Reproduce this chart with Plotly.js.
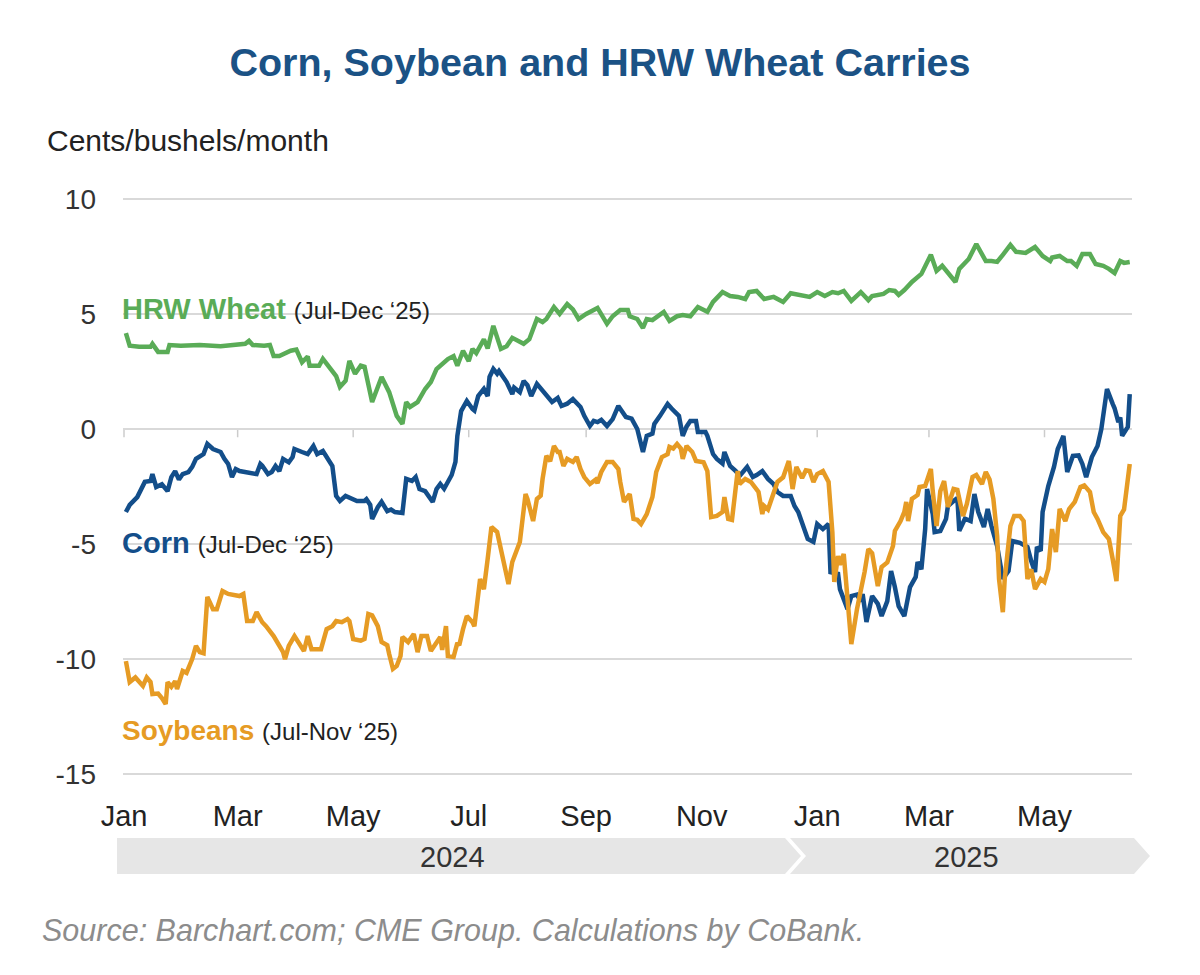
<!DOCTYPE html>
<html>
<head>
<meta charset="utf-8">
<script src="https://cdn.plot.ly/plotly-3.0.1.min.js"></script>
<style>
  html, body { margin: 0; padding: 0; background: #ffffff; }
  #chart { width: 1200px; height: 975px; }
</style>
</head>
<body>
<div id="chart"></div>
<script>
// Calendar spread carries, cents/bushel/month, by trading day.
// Days are counted from 1 January 2024.
const wheatDays = [1,3,8,14,15,18,23,24,30,40,51,61,64,66,68,74,77,79,82,88,91,94,97,98,103,105,109,112,114,117,119,122,125,127,131,136,140,144,147,149,151,155,159,162,165,171,174,176,179,182,184,186,190,192,195,199,202,205,211,214,218,221,223,227,230,234,237,240,244,250,255,258,262,266,267,271,274,276,279,285,288,292,295,299,303,308,311,316,320,324,328,330,334,338,343,348,352,357,362,366,370,374,377,380,384,389,393,395,401,404,407,409,412,416,419,421,426,429,432,435,439,441,446,450,455,458,461,464,468,471,476,481,485,489,490,494,498,500,503,506,510,513,517,520,523,526,528,531];
const wheatCarry = [4.17,3.62,3.57,3.57,3.7,3.35,3.35,3.65,3.62,3.65,3.6,3.65,3.7,3.83,3.65,3.62,3.65,3.17,3.17,3.4,3.45,2.9,3.15,2.75,2.75,3.05,2.6,2.3,1.83,2.1,2.96,2.4,2.75,2.7,1.17,2.26,1.6,0.57,0.22,1.17,0.96,1.17,1.74,2.04,2.6,3.04,3.17,2.75,3.4,2.95,3.48,3.3,3.9,3.5,4.48,3.48,3.6,3.96,3.7,3.9,4.78,4.65,4.78,5.3,5.0,5.43,5.2,4.78,5.0,5.26,4.57,4.9,5.17,5.17,4.9,4.78,4.39,4.78,4.73,5.09,4.7,4.9,4.95,4.9,5.3,5.09,5.52,5.95,5.78,5.74,5.65,5.95,6.0,5.65,5.74,5.52,5.9,5.8,5.74,5.95,5.78,5.95,5.9,6.0,5.57,5.95,5.6,5.78,5.87,6.04,6.0,5.83,6.04,6.39,6.57,6.74,7.57,6.87,7.09,6.8,6.39,6.96,7.39,8.04,7.3,7.3,7.26,7.57,8.0,7.7,7.65,7.91,7.52,7.3,7.45,7.52,7.3,7.3,7.09,7.6,7.6,7.17,7.09,6.96,6.78,7.3,7.22,7.26];

const cornDays = [1,3,7,10,11,14,15,17,20,23,25,27,29,31,34,36,38,42,44,47,51,53,55,57,59,61,64,67,70,72,73,76,78,80,82,84,87,89,90,94,97,100,102,105,108,110,112,114,117,119,123,127,128,130,131,134,136,139,141,143,147,149,152,154,156,159,160,163,165,167,169,171,173,175,176,178,181,184,185,187,190,192,193,195,197,198,202,205,206,209,211,213,215,218,221,223,226,229,231,234,237,241,243,246,248,250,252,255,258,261,265,268,271,274,276,279,280,283,287,289,293,295,297,299,302,303,307,308,311,313,316,317,320,323,325,329,332,334,337,340,343,345,348,352,354,356,359,361,364,366,369,372,373,377,378,380,382,384,387,389,390,392,395,398,400,403,405,407,409,412,415,418,419,421,423,424,427,428,431,434,435,438,440,441,444,447,449,451,454,456,458,461,463,464,467,469,473,477,479,481,482,484,485,488,491,493,496,498,501,504,506,508,511,514,516,519,522,523,525,526,527,530,531];
const cornCarry = [-3.61,-3.3,-2.96,-2.52,-2.3,-2.26,-1.96,-2.52,-2.4,-2.7,-2.09,-1.83,-2.2,-1.96,-1.87,-1.65,-1.3,-1.09,-0.65,-0.87,-1.0,-1.3,-1.52,-2.09,-1.74,-1.83,-1.87,-1.87,-1.96,-1.52,-1.6,-1.96,-1.87,-1.61,-1.83,-1.3,-1.45,-1.22,-0.87,-1.0,-1.09,-0.74,-1.09,-0.96,-1.3,-1.61,-2.91,-3.13,-2.91,-3.0,-3.13,-3.13,-3.05,-3.3,-3.91,-3.4,-3.17,-3.57,-3.5,-3.61,-3.65,-2.17,-2.26,-2.09,-2.61,-2.7,-2.83,-3.17,-2.61,-2.39,-2.6,-2.26,-2.0,-1.43,-0.3,0.78,1.22,0.87,0.8,1.43,1.74,1.43,2.26,2.61,2.4,2.52,2.04,1.52,1.8,1.6,2.09,1.9,1.43,1.96,1.65,1.5,1.17,1.35,1.0,1.1,1.3,0.96,0.57,0.13,0.35,0.3,0.4,0.13,0.43,1.0,0.52,0.45,0.0,-1.0,-0.3,-0.2,0.22,0.57,1.09,0.9,0.57,-0.3,0.1,0.35,0.35,-0.13,-0.13,-0.3,-1.09,-1.3,-1.5,-1.0,-1.61,-1.83,-2.04,-1.65,-2.09,-2.0,-1.83,-2.17,-2.4,-2.74,-2.91,-2.91,-3.35,-3.61,-4.35,-4.78,-4.91,-4.13,-4.35,-4.13,-6.22,-6.3,-6.96,-7.39,-7.83,-7.26,-7.2,-7.5,-7.17,-8.39,-7.26,-7.6,-8.13,-7.48,-6.17,-6.87,-7.7,-8.13,-6.87,-6.43,-5.78,-6.1,-4.35,-2.61,-3.7,-4.48,-4.43,-3.91,-3.35,-3.13,-3.0,-4.43,-3.9,-4.0,-2.83,-3.6,-4.26,-3.48,-4.22,-5.09,-6.17,-6.52,-6.17,-4.87,-4.95,-5.13,-5.74,-6.22,-5.13,-5.3,-3.61,-2.48,-1.65,-0.87,-0.3,-1.87,-1.17,-1.15,-1.52,-2.09,-1.22,-0.74,0.0,1.74,1.09,0.9,0.3,0.5,-0.3,0.09,1.52];

const soyDays = [1,3,6,8,10,12,14,15,18,20,22,23,25,27,28,31,33,36,38,40,42,44,47,49,52,55,59,61,63,65,68,70,73,75,79,81,84,85,87,90,93,95,97,99,102,104,107,110,112,115,118,119,121,125,127,129,131,134,136,139,140,142,144,146,147,150,153,155,157,160,162,164,167,168,170,171,174,176,177,179,181,184,185,188,190,192,194,197,200,203,205,209,212,213,216,218,220,221,223,225,227,229,230,232,234,237,239,241,243,246,249,250,252,255,258,261,262,264,267,269,271,273,276,279,281,284,287,288,290,292,294,295,297,300,302,306,308,310,313,316,317,319,321,324,325,328,331,333,335,337,338,340,343,345,348,351,353,355,358,360,362,364,366,369,372,374,375,377,378,380,382,384,387,389,391,393,395,398,400,403,406,407,410,412,413,414,416,419,420,423,426,427,429,431,433,435,438,440,443,445,448,450,453,455,457,459,461,462,464,465,468,470,473,475,477,479,481,484,486,488,490,492,494,497,499,502,505,507,510,512,514,517,520,522,524,526,528,531];
const soyCarry = [-10.09,-11.0,-10.8,-11.0,-11.17,-10.8,-11.0,-11.52,-11.5,-11.7,-11.96,-11.0,-11.2,-10.96,-11.3,-10.52,-10.6,-10.0,-9.43,-9.7,-9.75,-7.3,-7.83,-7.83,-7.04,-7.17,-7.26,-7.26,-7.17,-8.35,-8.35,-7.96,-8.4,-8.57,-9.0,-9.26,-9.7,-10.0,-9.43,-9.0,-9.43,-9.65,-9.0,-9.57,-9.57,-9.57,-8.7,-8.57,-8.35,-8.4,-8.26,-8.35,-9.13,-9.2,-9.13,-8.04,-8.1,-8.57,-9.26,-9.4,-9.78,-10.43,-10.3,-9.87,-9.04,-9.26,-8.91,-9.7,-9.0,-9.0,-9.65,-9.4,-9.04,-9.6,-8.57,-9.87,-9.91,-9.3,-9.4,-8.7,-8.13,-8.4,-8.57,-6.52,-6.96,-5.65,-4.26,-4.48,-5.65,-6.74,-5.78,-4.91,-2.83,-3.04,-4.0,-3.04,-2.9,-2.17,-1.17,-1.4,-0.74,-1.0,-1.0,-1.61,-1.3,-1.43,-1.22,-1.74,-2.09,-2.39,-2.2,-2.35,-1.87,-1.43,-1.43,-1.74,-2.3,-3.17,-2.83,-3.91,-3.95,-4.13,-3.7,-2.96,-1.87,-1.22,-1.1,-0.78,-0.85,-0.65,-0.85,-1.3,-0.74,-1.0,-1.39,-1.45,-1.83,-3.83,-3.78,-3.61,-2.96,-3.91,-3.95,-1.83,-2.39,-2.17,-2.3,-2.5,-2.74,-3.7,-3.35,-3.5,-2.7,-2.3,-2.1,-1.39,-2.61,-1.65,-2.13,-1.8,-1.83,-2.3,-1.96,-1.83,-2.3,-4.48,-6.65,-5.52,-5.9,-5.43,-7.39,-9.35,-7.83,-7.09,-6.22,-5.22,-5.4,-6.83,-6.0,-5.8,-5.09,-4.43,-4.0,-3.6,-3.17,-4.0,-3.04,-2.87,-2.52,-2.48,-1.74,-2.7,-4.22,-2.7,-2.26,-3.39,-2.61,-2.65,-3.78,-3.26,-2.09,-2.0,-2.39,-1.87,-2.2,-3.04,-4.65,-6.52,-7.96,-6.52,-4.22,-3.78,-3.78,-4.0,-6.52,-6.1,-6.96,-6.52,-6.65,-6.09,-4.35,-5.35,-3.48,-4.0,-3.48,-3.17,-2.52,-2.45,-2.74,-3.61,-3.91,-4.48,-4.78,-5.65,-6.61,-3.78,-3.5,-1.52];

// Axis ticks
const monthTicks = ['2024-01-01','2024-03-01','2024-05-01','2024-07-01','2024-09-01','2024-11-01','2025-01-01','2025-03-01','2025-05-01'];
const monthLabels = ['Jan','Mar','May','Jul','Sep','Nov','Jan','Mar','May'];
const yTicks = [10, 5, 0, -5, -10, -15];
const yLabels = ['10', '5', '0', '-5', '-10', '-15'];
const yearLabels = ['2024', '2025'];

const DAY_MS = 86400000;
const BASE = Date.UTC(2024, 0, 1);
function toDate(d) {
  return new Date(BASE + d * DAY_MS).toISOString().replace('T', ' ').slice(0, 19);
}

// Page geometry (pixels) used for the frame and the text placed around it
const W = 1200, H = 975;
const M = { l: 123, r: 68, t: 192, b: 194 };
const PW = W - M.l - M.r, PH = H - M.t - M.b;
const px = x => (x - M.l) / PW;
const py = y => (H - M.b - y) / PH;

const FONT = 'Liberation Sans, Arial, Helvetica, sans-serif';
const GREEN = '#5aac57', BLUE = '#134e8a', ORANGE = '#e69b24';

function series(days, vals, color) {
  return {
    type: 'scatter', mode: 'lines',
    x: days.map(toDate), y: vals,
    line: { color: color, width: 4.5, shape: 'linear' },
    hoverinfo: 'x+y'
  };
}

const traces = [
  series(wheatDays, wheatCarry, GREEN),
  series(cornDays, cornCarry, BLUE),
  series(soyDays, soyCarry, ORANGE)
];

// Small ticks hanging below the zero line at each month label
const shapes = monthTicks.map(t => ({
  type: 'line', xref: 'x', yref: 'y', x0: t, x1: t, y0: 0, y1: -0.36,
  line: { color: '#cccccc', width: 1.5 }, layer: 'below'
}));

// Year bands drawn as chevrons under the month labels
function band(x0, x1, tip, notch) {
  const yt = py(838), yb = py(874), ym = py(856);
  let p = `M ${px(x0)} ${yt} L ${px(x1)} ${yt} L ${px(tip)} ${ym} L ${px(x1)} ${yb} L ${px(x0)} ${yb}`;
  if (notch) p += ` L ${px(notch)} ${ym}`;
  return { type: 'path', xref: 'paper', yref: 'paper', path: p + ' Z',
           fillcolor: '#e6e6e6', line: { width: 0 }, layer: 'below' };
}
shapes.push(band(117, 785, 801, null));
shapes.push(band(790, 1134, 1150, 806));

const annotations = [
  { text: 'Cents/bushels/month', x: px(45), y: py(140), xanchor: 'left', yanchor: 'middle',
    font: { family: FONT, size: 30, color: '#222222' } },
  { text: '<b>HRW Wheat</b> <span style="font-size:24px;color:#222222">(Jul-Dec ‘25)</span>',
    x: px(120), y: py(309), xanchor: 'left', yanchor: 'middle',
    font: { family: FONT, size: 29, color: GREEN } },
  { text: '<b>Corn</b> <span style="font-size:24px;color:#222222">(Jul-Dec ‘25)</span>',
    x: px(120), y: py(543), xanchor: 'left', yanchor: 'middle',
    font: { family: FONT, size: 29, color: BLUE } },
  { text: '<b>Soybeans</b> <span style="font-size:24px;color:#222222">(Jul-Nov ‘25)</span>',
    x: px(120), y: py(730), xanchor: 'left', yanchor: 'middle',
    font: { family: FONT, size: 28, color: ORANGE } },
  { text: yearLabels[0], x: px(452), y: py(857), xanchor: 'center', yanchor: 'middle',
    font: { family: FONT, size: 29, color: '#333333' } },
  { text: yearLabels[1], x: px(966), y: py(857), xanchor: 'center', yanchor: 'middle',
    font: { family: FONT, size: 29, color: '#333333' } },
  { text: '<i>Source: Barchart.com; CME Group. Calculations by CoBank.</i>',
    x: px(40), y: py(930), xanchor: 'left', yanchor: 'middle',
    font: { family: FONT, size: 30.5, color: '#8c8c8c' } }
].map(a => Object.assign({ xref: 'paper', yref: 'paper', showarrow: false }, a));

const layout = {
  width: W, height: H,
  margin: M,
  paper_bgcolor: '#ffffff', plot_bgcolor: '#ffffff',
  showlegend: false,
  title: {
    text: '<b>Corn, Soybean and HRW Wheat Carries</b>',
    x: 0.5, xref: 'container', xanchor: 'center',
    y: 1 - 62 / H, yref: 'container', yanchor: 'middle',
    font: { family: FONT, size: 39.5, color: '#1b5285' }
  },
  xaxis: {
    type: 'date',
    range: [toDate(-0.53), toDate(532.2)],
    tickmode: 'array', tickvals: monthTicks, ticktext: monthLabels,
    showgrid: false, zeroline: false, showline: false, ticks: '',
    ticklabelstandoff: 15,
    tickfont: { family: FONT, size: 29, color: '#222222' }
  },
  yaxis: {
    range: [-15.3, 10.3],
    tickmode: 'array', tickvals: yTicks, ticktext: yLabels,
    showgrid: true, gridcolor: '#d9d9d9', gridwidth: 1.5,
    zeroline: false, showline: false, ticks: '',
    ticklabelstandoff: 26,
    tickfont: { family: FONT, size: 28, color: '#333333' }
  },
  shapes: shapes,
  annotations: annotations
};

Plotly.newPlot('chart', traces, layout, { staticPlot: true, displayModeBar: false });
</script>
</body>
</html>
